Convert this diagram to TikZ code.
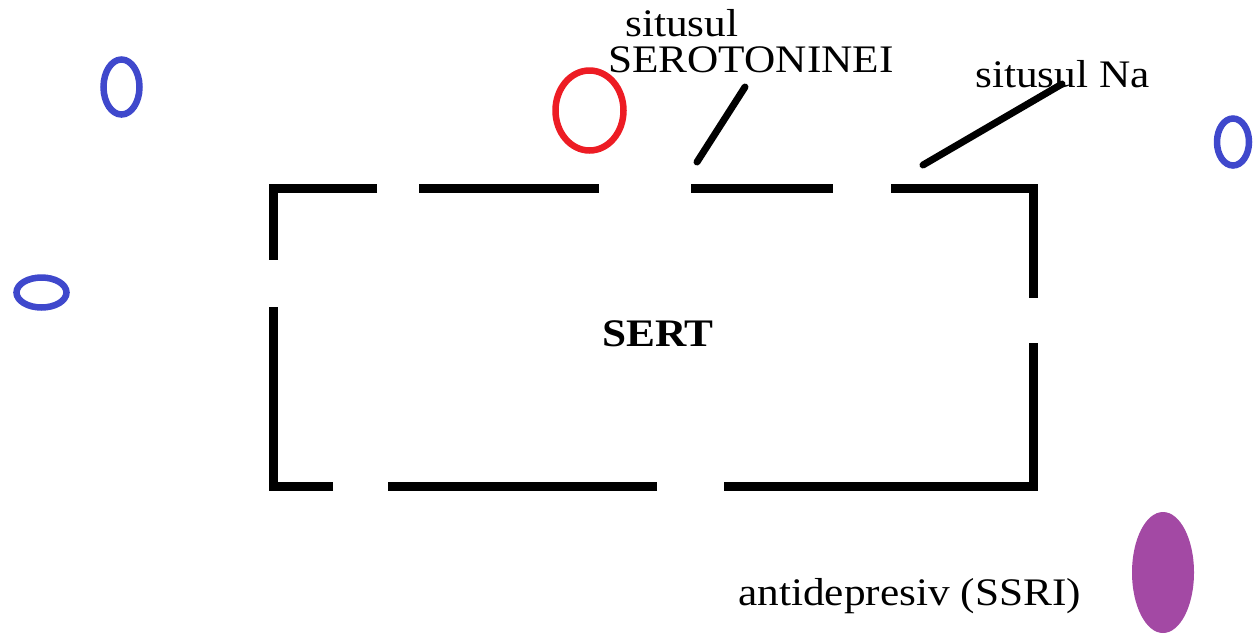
\documentclass[tikz,border=0pt]{standalone}
\usepackage{fontspec}
\setmainfont[FakeStretch=1.11]{Liberation Serif}
\usetikzlibrary{shapes.geometric}
\definecolor{ionblue}{HTML}{3F48CC}
\definecolor{serred}{HTML}{ED1C24}
\definecolor{ssrimauve}{HTML}{A349A4}
\tikzset{
  wall/.style={line width=9pt,line cap=butt},
  pointer/.style={line width=7pt,line cap=round},
  ion/.style={
    ellipse,
    draw=ionblue,
    line width=6.5pt,
    inner sep=0pt
  },
  label text/.style={anchor=base west,inner sep=0pt,font=\fontsize{39}{40}\selectfont}
}

\begin{document}
\begin{tikzpicture}[x=1pt,y=-1pt]
\useasboundingbox (0,0) rectangle (1253,633);
% ioni liberi
\node[ion,minimum width=36pt,minimum height=55pt] (ion1) at (121.5,87) {};
\node[ion,minimum width=50pt,minimum height=30pt] (ion2) at (41.5,292.5) {};
\node[ion,minimum width=32pt,minimum height=47pt] (ion3) at (1233,142) {};
\node[ion,draw=serred,minimum width=68pt,minimum height=80pt] (serotonina) at (589.5,110.5) {};
\node[ellipse,fill=ssrimauve,inner sep=0pt,minimum width=62pt,minimum height=121pt] (ssri) at (1163,572.5) {};
% transportorul, cu deschideri
\draw[wall] (377,188.5) -- (273,188.5) -- (273,260);
\draw[wall] (419,188.5) -- (599,188.5);
\draw[wall] (691,188.5) -- (833,188.5);
\draw[wall] (891,188.5) -- (1033.5,188.5) -- (1033.5,298);
\draw[wall] (1033.5,343) -- (1033.5,486.5) -- (724,486.5);
\draw[wall] (657,486.5) -- (388,486.5);
\draw[wall] (333,486.5) -- (273,486.5) -- (273,307);
\node[label text,font=\fontsize{39}{40}\selectfont\bfseries] (sert) at (602,346) {SERT};
% etichete
\node[label text] (sit1) at (625,36) {situsul};
\node[label text] (sit2) at (608,72) {SEROTONINEI};
\node[label text] (sitna) at (975,87) {situsul Na};
\node[label text] (anti) at (738,605) {antidepresiv (SSRI)};
\coordinate (p1a) at (697,162);
\coordinate (p1b) at (745,87);
\coordinate (p2a) at (923,165);
\coordinate (p2b) at (1062,84);
\draw[pointer] (p1a) -- (p1b);
\draw[pointer] (p2a) -- (p2b);
\end{tikzpicture}
\end{document}
